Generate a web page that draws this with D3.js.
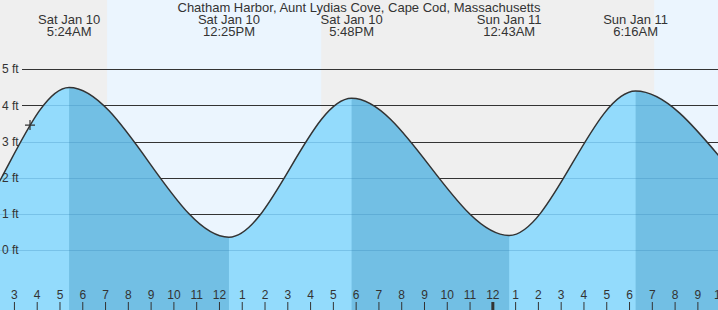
<!DOCTYPE html>
<html lang="en">
    <head>
        <meta charset="utf-8">
        <title>Tide chart</title>
        <script type="text/javascript" src="https://cdn.jsdelivr.net/npm/d3@7"></script>
        <style>
            body { margin: 0; }
            svg { display: block; font-family: "Liberation Sans", Arial, sans-serif; }
            text { fill: #333; }
        </style>
    </head>
    <body>
        <script type="text/javascript">
            // tide extremes (first, last two are just off screen, estimated)
            var tideTimes = ["2026-01-09 18:00", "2026-01-10 00:08", "2026-01-10 05:24", "2026-01-10 12:25",
                             "2026-01-10 17:48", "2026-01-11 00:43", "2026-01-11 06:16", "2026-01-11 14:00",
                             "2026-01-11 20:10"];
            var tideHeights = [4.4, 0.3, 4.5, 0.36, 4.2, 0.41, 4.4, 0.5, 4.3];

            var sunrise = ["2026-01-10 07:04", "2026-01-11 07:05"];
            var sunset = ["2026-01-10 16:28", "2026-01-11 16:30"];

            var viewStart = "2026-01-10 02:22";
            var viewEnd = "2026-01-11 09:53";

            var nowTime = "2026-01-10 03:41";
            var nowHeight = 3.46;

            var feetTicks = [0, 1, 2, 3, 4, 5];
            var title = "Chatham Harbor, Aunt Lydias Cove, Cape Cod, Massachusetts";

            var w = 718;
            var h = 310;
            var parse = d3.timeParse("%Y-%m-%d %H:%M");

            var tides = tideTimes.map(function(t, i){
                return {t: parse(t), v: tideHeights[i]};
            });

            var x = d3.scaleTime()
                .domain([parse(viewStart), parse(viewEnd)])
                .range([0, w]);
            // 36px per foot, 0 ft sits at y=250
            var y = d3.scaleLinear().domain([0, 5]).range([250.3, 69.3]);

            var svg = d3.select("body").append("svg").attr("width", w).attr("height", h);

            // night background
            svg.append("rect").attr("width", w).attr("height", h).attr("fill", "#efefef");
            // daylight bands
            svg.selectAll("rect.day")
                .data(sunrise)
                .enter()
                .append("rect")
                .attr("class", "day")
                .attr("x", function(d){ return x(parse(d)); })
                .attr("y", 0)
                .attr("width", function(d, i){ return x(parse(sunset[i])) - x(parse(d)); })
                .attr("height", h)
                .attr("fill", "#ebf5fe");

            // grid lines
            svg.selectAll("line.grid")
                .data(feetTicks)
                .enter()
                .append("line")
                .attr("class", "grid")
                .attr("x1", 22).attr("x2", w)
                .attr("y1", function(d){ return Math.round(y(d)) + 0.5; })
                .attr("y2", function(d){ return Math.round(y(d)) + 0.5; })
                .attr("stroke", "#333");

            var curve = d3.curveMonotoneX;
            var area = d3.area()
                .x(function(d){ return x(d.t); })
                .y0(h)
                .y1(function(d){ return y(d.v); })
                .curve(curve);
            var line = d3.line()
                .x(function(d){ return x(d.t); })
                .y(function(d){ return y(d.v); })
                .curve(curve);

            svg.append("clipPath").attr("id", "water")
                .append("path").attr("d", area(tides));

            var water = svg.append("g").attr("clip-path", "url(#water)");
            water.append("rect").attr("width", w).attr("height", h).attr("fill", "#93dbfc");

            // falling tide (high -> next low) is darker
            var falls = tides.filter(function(d, i){
                return i < tides.length - 1 && d.v > tides[i + 1].v;
            });
            water.selectAll("rect.ebb")
                .data(falls)
                .enter()
                .append("rect")
                .attr("class", "ebb")
                .attr("x", function(d){ return x(d.t); })
                .attr("y", 0)
                .attr("width", function(d){
                    var next = tides[tides.indexOf(d) + 1];
                    return x(next.t) - x(d.t);
                })
                .attr("height", h)
                .attr("fill", "#72bfe4");

            water.selectAll("line.wgrid")
                .data(feetTicks)
                .enter()
                .append("line")
                .attr("class", "wgrid")
                .attr("x1", 0).attr("x2", w)
                .attr("y1", function(d){ return Math.round(y(d)) + 0.5; })
                .attr("y2", function(d){ return Math.round(y(d)) + 0.5; })
                .attr("stroke", "rgba(40,120,170,0.25)");

            svg.append("path")
                .attr("d", line(tides))
                .attr("fill", "none")
                .attr("stroke", "#333")
                .attr("stroke-width", 1.5);

            // foot labels sit on top of the water
            svg.selectAll("text.ft")
                .data(feetTicks)
                .enter()
                .append("text")
                .attr("class", "ft")
                .attr("x", 2)
                .attr("y", function(d){ return y(d) + 4; })
                .attr("font-size", "12px")
                .text(function(d){ return d + " ft"; });

            // current time marker
            var nx = x(parse(nowTime)), ny = y(nowHeight);
            svg.append("path")
                .attr("d", "M" + (nx - 5) + "," + ny + "H" + (nx + 5) + "M" + nx + "," + (ny - 5) + "V" + (ny + 5))
                .attr("stroke", "#333")
                .attr("stroke-width", 1.2);

            // hour axis
            var hours = d3.timeHour.range(x.domain()[0], d3.timeHour.offset(x.domain()[1], 1));
            var axis = svg.append("g");
            axis.selectAll("line")
                .data(hours)
                .enter()
                .append("line")
                .attr("x1", function(d){ return x(d); })
                .attr("x2", function(d){ return x(d); })
                .attr("y1", 302).attr("y2", h)
                .attr("stroke", "#333")
                .attr("stroke-width", function(d){ return d.getHours() === 0 ? 3 : 1; });
            axis.selectAll("text")
                .data(hours)
                .enter()
                .append("text")
                .attr("x", function(d){ return x(d); })
                .attr("y", 299)
                .attr("text-anchor", "middle")
                .attr("font-size", "12px")
                .text(d3.timeFormat("%-I"));

            // title and high/low labels
            svg.append("text")
                .attr("x", w / 2)
                .attr("y", 12)
                .attr("text-anchor", "middle")
                .attr("font-size", "13px")
                .text(title);

            var shown = tides.filter(function(d){ return x(d.t) > 0 && x(d.t) < w; });
            var labels = svg.selectAll("g.lbl")
                .data(shown)
                .enter()
                .append("g")
                .attr("class", "lbl")
                .attr("transform", function(d){ return "translate(" + x(d.t) + ",0)"; });
            labels.append("text")
                .attr("y", 24)
                .attr("text-anchor", "middle")
                .attr("font-size", "13px")
                .text(function(d){ return d3.timeFormat("%a %b %-d")(d.t); });
            labels.append("text")
                .attr("y", 36)
                .attr("text-anchor", "middle")
                .attr("font-size", "13px")
                .text(function(d){ return d3.timeFormat("%-I:%M%p")(d.t); });
        </script>
    </body>
</html>
